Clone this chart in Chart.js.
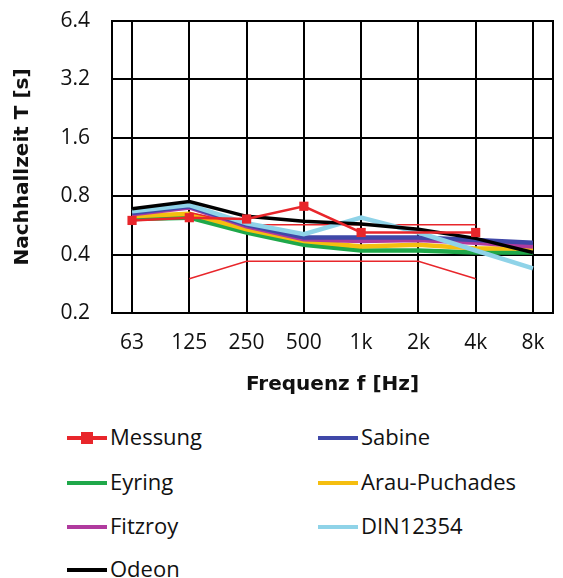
<!DOCTYPE html>
<html>
<head>
<meta charset="utf-8">
<script src="https://cdn.jsdelivr.net/npm/chart.js@4.4.1/dist/chart.umd.min.js"></script>
<style>
  body { margin: 0; background: #fff; font-family: "Open Sans", sans-serif; }
  #wrap { position: relative; width: 563px; height: 578px; }
  #chart { position: absolute; left: 0; top: 0; }
  .leg { position: absolute; font-size: 22px; color: #111; line-height: 26px; white-space: nowrap; }
  .leg .sw { display: inline-block; width: 40px; height: 4px; vertical-align: middle; margin-right: 3px; position: relative; top: -1px; }
  .leg .mk { position: absolute; left: 14px; top: -4px; width: 12px; height: 12px; background: #e8262b; }
</style>
</head>
<body>
<div id="wrap">
  <canvas id="chart" width="563" height="410"></canvas>
  <div id="legend"></div>
</div>
<script>
// Frequenzbänder und Nachhallzeiten (Sekunden)
const freqLabels = ['63', '125', '250', '500', '1k', '2k', '4k', '8k'];
const yTicks = [0.2, 0.4, 0.8, 1.6, 3.2, 6.4];

const messung = [0.60, 0.62, 0.61, 0.71, 0.52, null, 0.52, null];
const toleranzOben = [null, 0.66, 0.57, 0.57, 0.57, 0.57, 0.57, null];
const toleranzUnten = [null, 0.30, 0.37, 0.37, 0.37, 0.37, 0.30, null];
const sabine = [0.655, 0.71, 0.57, 0.49, 0.49, 0.49, 0.475, 0.46];
const eyring = [0.61, 0.62, 0.52, 0.45, 0.42, 0.42, 0.41, 0.41];
const arauPuchades = [0.63, 0.65, 0.54, 0.47, 0.44, 0.45, 0.43, 0.43];
const fitzroy = [0.645, 0.70, 0.56, 0.48, 0.47, 0.475, 0.46, 0.44];
const din12354 = [0.67, 0.72, 0.58, 0.51, 0.62, 0.52, 0.42, 0.34];
const odeon = [0.69, 0.75, 0.63, 0.595, 0.575, 0.54, 0.485, 0.41];

const toPoints = (arr) => arr.map((v, i) => ({ x: i, y: v }));

const series = [
    { label: 'Messung', data: messung, color: '#e8262b', width: 2.5, marker: true },
    { label: 'Odeon', data: odeon, color: '#000000', width: 3.5 },
    { label: 'DIN12354', data: din12354, color: '#8fd3e8', width: 4.5 },
    { label: 'Sabine', data: sabine, color: '#3f48a8', width: 4.5 },
    { label: 'Fitzroy', data: fitzroy, color: '#b03a9e', width: 4.5 },
    { label: 'toleranzOben', data: toleranzOben, color: '#e8262b', width: 1.5 },
    { label: 'Arau-Puchades', data: arauPuchades, color: '#f5be0f', width: 4.5 },
    { label: 'Eyring', data: eyring, color: '#1fa84a', width: 4.5 },
    { label: 'toleranzUnten', data: toleranzUnten, color: '#e8262b', width: 1.5 }
];

const datasets = series.map(s => ({
    label: s.label,
    data: toPoints(s.data),
    borderColor: s.color,
    backgroundColor: s.color,
    borderWidth: s.width,
    pointRadius: s.marker ? 6.5 : 0,
    pointStyle: 'rect',
    pointBorderWidth: 0,
    spanGaps: true,
    tension: 0
}));

// Rahmen um den Plotbereich
const frame = {
    id: 'frame',
    afterDatasetsDraw(chart) {
        const a = chart.chartArea;
        const c = chart.ctx;
        c.save();
        c.strokeStyle = '#000';
        c.lineWidth = 2;
        c.strokeRect(a.left, a.top, a.right - a.left, a.bottom - a.top);
        c.restore();
    }
};

const tickFont = { family: 'Open Sans', size: 21 };
const titleFont = { family: 'DejaVu Sans', size: 20, weight: 'bold' };

new Chart(document.getElementById('chart'), {
    type: 'line',
    data: { datasets },
    options: {
        responsive: false,
        animation: false,
        layout: { padding: { top: 21, right: 10, left: 0, bottom: 0 } },
        plugins: { legend: { display: false }, tooltip: { enabled: false } },
        scales: {
            x: {
                type: 'linear',
                min: -0.35,
                max: 7.35,
                afterBuildTicks: (scale) => { scale.ticks = freqLabels.map((_, i) => ({ value: i })); },
                afterFit: (scale) => { scale.height = 97; },
                ticks: { color: '#111', font: tickFont, padding: 17, maxRotation: 0, callback: (v) => freqLabels[v] },
                grid: { color: '#000', lineWidth: 2, drawTicks: false },
                border: { color: '#000', width: 2 },
                title: { display: true, text: 'Frequenz f [Hz]', color: '#111', font: titleFont, padding: { top: 0, bottom: 13 } }
            },
            y: {
                type: 'logarithmic',
                min: 0.2,
                max: 6.4,
                afterBuildTicks: (scale) => { scale.ticks = yTicks.map(v => ({ value: v })); },
                afterFit: (scale) => { scale.width = 112; scale.paddingTop = 0; scale.paddingBottom = 0; },
                ticks: { color: '#111', font: tickFont, padding: 22, callback: (v) => String(v) },
                grid: { color: '#000', lineWidth: 2, drawTicks: false },
                border: { color: '#000', width: 2 },
                title: { display: true, text: 'Nachhallzeit T [s]', color: '#111', font: titleFont, padding: { top: 11, bottom: 0 } }
            }
        }
    },
    plugins: [frame]
});

// Legende (zweispaltig, wie in der Vorlage)
const legendItems = [
    { label: 'Messung', color: '#e8262b', marker: true, x: 67, y: 423 },
    { label: 'Sabine', color: '#3f48a8', x: 318, y: 423 },
    { label: 'Eyring', color: '#1fa84a', x: 67, y: 468 },
    { label: 'Arau-Puchades', color: '#f5be0f', x: 318, y: 468 },
    { label: 'Fitzroy', color: '#b03a9e', x: 67, y: 512 },
    { label: 'DIN12354', color: '#8fd3e8', x: 318, y: 512 },
    { label: 'Odeon', color: '#000000', x: 67, y: 555 }
];
const legend = document.getElementById('legend');
legendItems.forEach(item => {
    const el = document.createElement('div');
    el.className = 'leg';
    el.style.left = item.x + 'px';
    el.style.top = item.y + 'px';
    el.innerHTML = '<span class="sw" style="background:' + item.color + '">' +
        (item.marker ? '<span class="mk"></span>' : '') + '</span>' + item.label;
    legend.appendChild(el);
});
</script>
</body>
</html>
